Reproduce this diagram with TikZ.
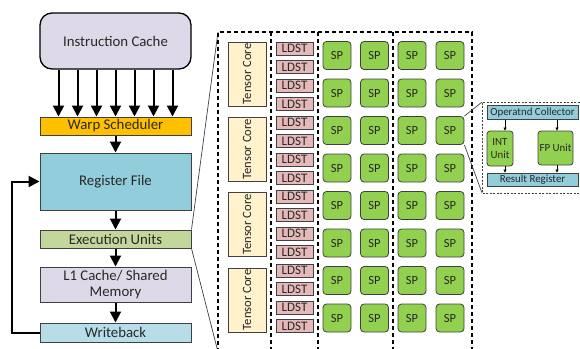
\documentclass[tikz,border=0pt]{standalone}
\usepackage{fontspec}
\setmainfont{Carlito}
\usepackage[table]{xcolor}
\usepackage{tikz}
\usetikzlibrary{arrows.meta}

\definecolor{cachepurple}{RGB}{222,217,232}
\definecolor{warporange}{RGB}{255,192,0}
\definecolor{regblue}{RGB}{146,205,220}
\definecolor{exgreen}{RGB}{195,214,155}
\definecolor{wbblue}{RGB}{183,222,232}
\definecolor{tensoryellow}{RGB}{255,242,204}
\definecolor{ldstpink}{RGB}{230,185,184}
\definecolor{spgreen}{RGB}{146,208,80}
\definecolor{edgegray}{RGB}{64,64,64}
\definecolor{textgray}{RGB}{40,40,40}

\tikzset{
  stage/.style={draw=edgegray, line width=1pt, minimum width=151pt, inner sep=0pt,
    text=textgray, align=center, font=\fontsize{14.8}{16}\selectfont},
  bigarrow/.style={line width=2pt, -{Triangle[width=11pt,length=11pt]}},
  smallarrow/.style={line width=0.6pt, -{Triangle[width=3pt,length=3pt]}},
  column/.style={line width=1.4pt, dash pattern=on 4pt off 3pt},
  detailbox/.style={line width=0.6pt, draw=edgegray, dash pattern=on 2pt off 1.5pt},
  zoomline/.style={line width=0.7pt, draw=edgegray},
  tensorbox/.style={draw=edgegray, fill=tensoryellow, line width=0.8pt, rotate=90,
    minimum width=64pt, minimum height=38pt, inner sep=0pt, text=textgray,
    font=\fontsize{12.6}{14}\selectfont},
  ldstbox/.style={draw=edgegray, fill=ldstpink, line width=0.8pt, minimum width=37pt,
    minimum height=13pt, inner sep=0pt, text=textgray, font=\fontsize{13}{13}\selectfont},
  spbox/.style={draw=edgegray, fill=spgreen, line width=0.8pt, rounded corners=3.5pt,
    minimum size=28pt, inner sep=0pt, text=textgray, font=\fontsize{12.5}{13}\selectfont},
  unitbox/.style={draw=edgegray, line width=0.8pt, inner sep=0pt, text=textgray,
    align=center, font=\fontsize{10.9}{13}\selectfont}
}

\begin{document}
\begin{tikzpicture}[x=1pt, y=-1pt]
        \useasboundingbox (0,0) rectangle (580,348);
        \clip (0,0) rectangle (580,348);
        % pipeline
        \node [stage, fill=cachepurple, draw=black, line width=1.3pt, rounded corners=12pt,
               minimum height=56pt] (icache) at (115.5,41)    {Instruction Cache};
        \node [stage, fill=warporange, minimum height=18pt] (warp)    at (115.5,126)   {Warp Scheduler};
        \node [stage, fill=regblue, minimum height=57pt]    (regfile) at (115.5,181.5) {Register File};
        \node [stage, fill=exgreen, minimum height=18pt]    (exec)    at (115.5,239)   {Execution Units};
        \node [stage, fill=cachepurple, minimum height=35pt] (lone)   at (115.5,284.5) {L1 Cache/ Shared\\Memory};
        \node [stage, fill=wbblue, minimum height=19pt]     (wback)   at (115.5,332.5) {Writeback};
        \foreach \dx in {-57,-38,-19,0,19,38,57}
          \draw [bigarrow] ([xshift=\dx pt]icache.south) -- ([xshift=\dx pt]warp.north);
        \draw [bigarrow] (warp)    -- (regfile);                   %
        \draw [bigarrow] (regfile) -- (exec);                      %
        \draw [bigarrow] (exec)    -- (lone);                      %
        \draw [bigarrow] (lone)    -- (wback);                     %
        \draw [bigarrow] (wback.west) -- ++(-28,0) |- (regfile.west); %writeback loop
        % SM grid
        \coordinate (gridtl) at (218,32);
        \coordinate (gridbl) at (218,352);
        \draw [zoomline] (exec.north east) -- (gridtl);
        \draw [zoomline] (exec.south east) -- (gridbl);
        \draw [column] (gridbl) -- (gridtl) -- (472,32) -- (472,356);
        \draw [column] (271,32) -- (271,356);                      %
        \draw [column] (318,32) -- (318,356);                      %
        \draw [column] (393,32) -- (393,356);                      %
        \foreach \i in {0,...,3}
          \node [tensorbox] (tc\i) at (247,{74+75.3*\i}) {Tensor Core};
        \foreach \j in {0,...,15}
          \node [ldstbox] (ldst\j) at (294.5,{48.5+18.5*\j}) {LDST};
        \foreach \c/\x in {1/337,2/374.5,3/412,4/450}
          \foreach \r in {1,...,8}
            \node [spbox] (sp\r-\c) at (\x,{18+37.5*\r}) {SP};
        % SP detail
        \coordinate (detailtl) at (482,102);
        \coordinate (detailbl) at (482,193);
        \draw [zoomline] (sp3-4.north east) -- (detailtl);
        \draw [zoomline] (sp3-4.south east) -- (detailbl);
        \draw [detailbox] (590,102) -- (detailtl) -- (detailbl) -- (590,193);
        \node [unitbox, fill=regblue, minimum width=91pt, minimum height=14pt] (operand) at (532.5,112.5) {Operatnd Collector};
        \node [unitbox, fill=spgreen, rounded corners=3pt, minimum width=26pt, minimum height=35pt] (intu) at (500,148.5) {INT\\Unit};
        \node [unitbox, fill=spgreen, rounded corners=3pt, minimum width=35pt, minimum height=34pt] (fpu) at (555.5,148) {FP Unit};
        \node [unitbox, fill=regblue, minimum width=91pt, minimum height=13pt] (result) at (532.5,179.5) {Result Register};
        \draw [smallarrow] ([xshift=5pt]intu.north |- operand.south) -- ([xshift=5pt]intu.north);
        \draw [smallarrow] ([xshift=5pt]intu.south) -- ([xshift=5pt]intu.south |- result.north);
        \draw [smallarrow] ([xshift=1.5pt]fpu.north |- operand.south) -- ([xshift=1.5pt]fpu.north);
        \draw [smallarrow] ([xshift=1.5pt]fpu.south) -- ([xshift=1.5pt]fpu.south |- result.north);
\end{tikzpicture}
\end{document}
